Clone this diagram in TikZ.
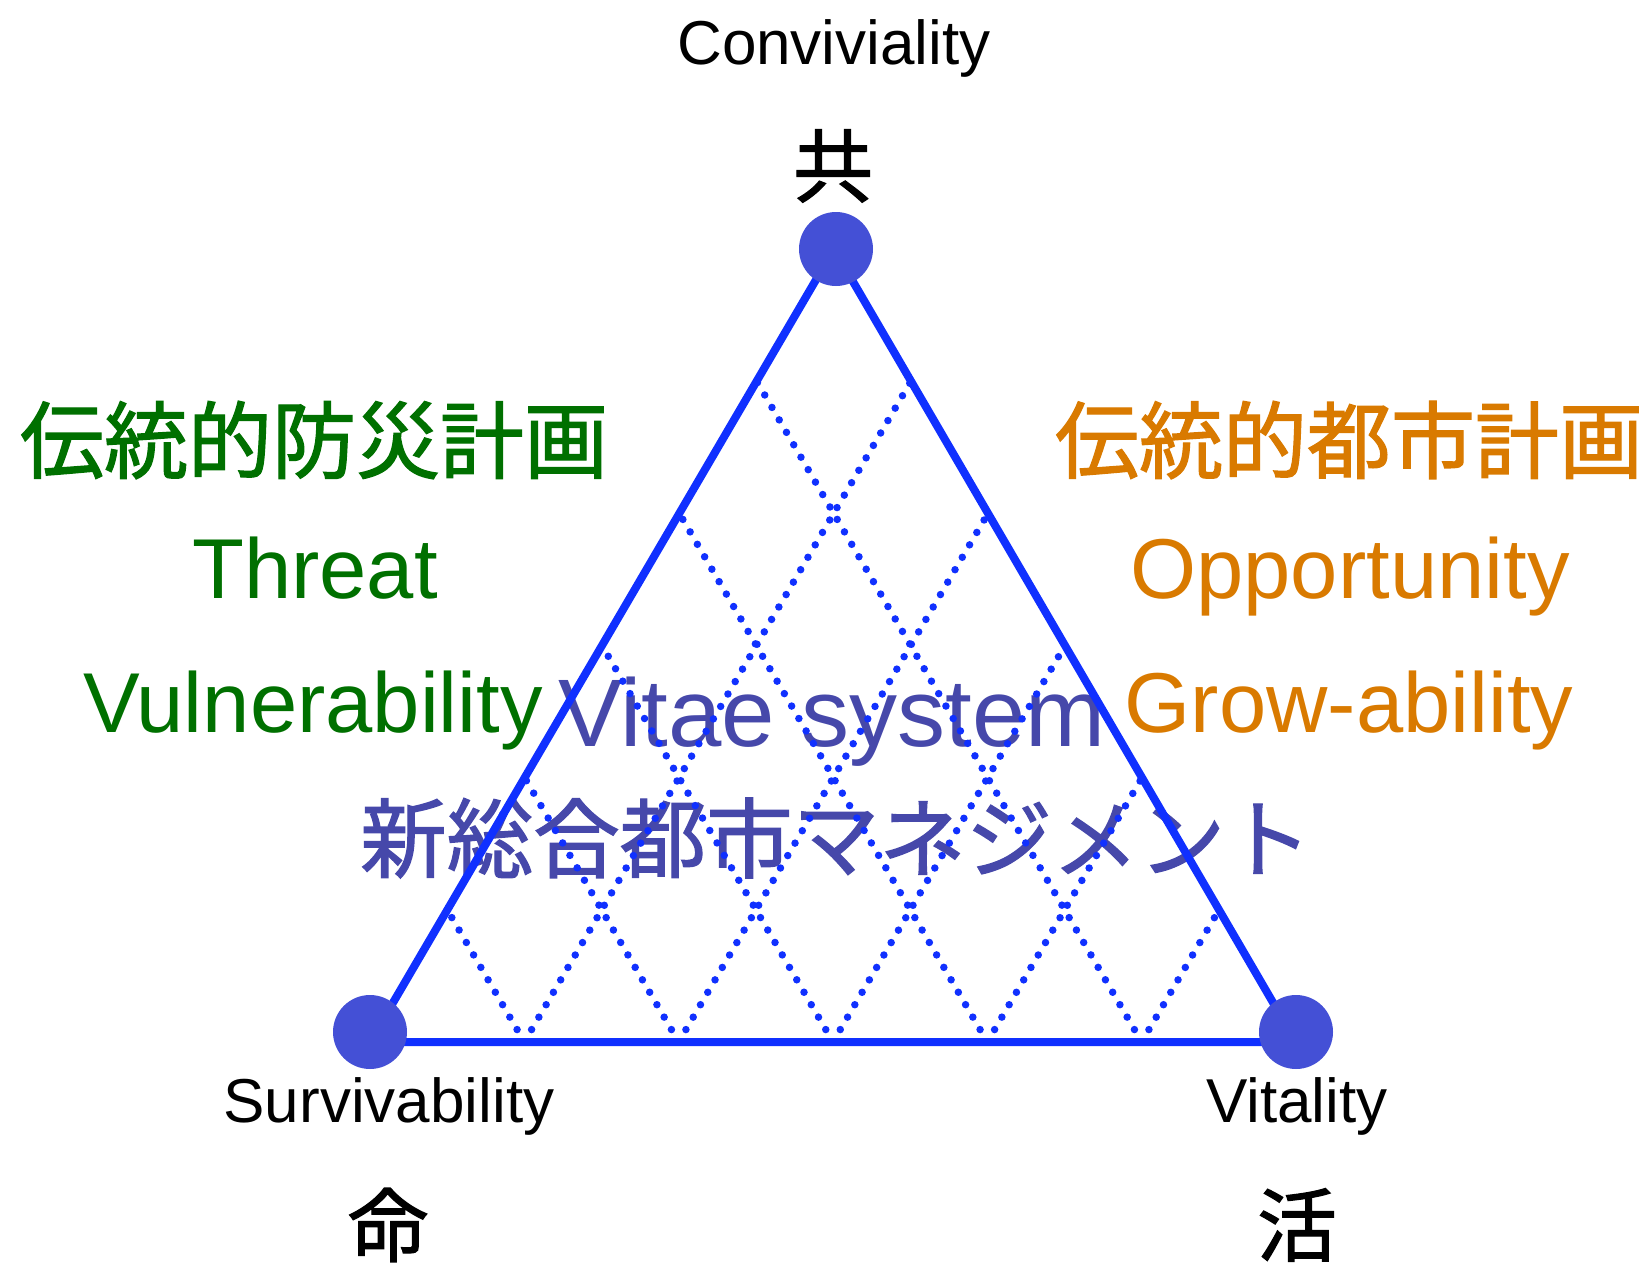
\documentclass[tikz,border=0pt]{standalone}
\usepackage{fontspec}
\setmainfont{Liberation Sans}
\newfontfamily\cjk[FakeBold=1.5]{Noto Sans CJK JP}
\usetikzlibrary{calc}
\definecolor{edgeblue}{RGB}{16,48,255}
\definecolor{dotfill}{RGB}{68,80,214}
\definecolor{vitaecol}{RGB}{70,72,170}
\definecolor{grn}{RGB}{0,112,0}
\definecolor{org}{RGB}{217,122,0}
\tikzset{
  lat/.style={inner sep=0pt, anchor=base},
  cj/.style={inner sep=0pt, anchor=center},
  edgeline/.style={draw=edgeblue, line width=8pt},
  gridline/.style={draw=edgeblue, line width=7.5pt, line cap=round, dash pattern=on 0pt off 14.4pt},
  vtx/.style={circle, fill=dotfill, minimum size=74pt, inner sep=0pt},
}
\begin{document}
\begin{tikzpicture}[x=1pt,y=-1pt]
\useasboundingbox (0,0) rectangle (1652,1271);
% texts
\node[lat, font=\fontsize{62}{70}\selectfont] (conv) at (834,65) {Conviviality};
\node[cj, font=\cjk\fontsize{80}{90}\selectfont] (kyo) at (833,166) {共};
\node[cj, text=grn, font=\cjk\fontsize{84}{94}\selectfont] (bosai) at (314,440) {伝統的防災計画};
\node[lat, text=grn, font=\fontsize{85}{95}\selectfont] (threat) at (315,598) {Threat};
\node[lat, text=grn, font=\fontsize{85}{95}\selectfont] (vuln) at (313,732) {Vulnerability};
\node[cj, text=org, font=\cjk\fontsize{84}{94}\selectfont] (toshi) at (1349,440) {伝統的都市計画};
\node[lat, text=org, font=\fontsize{85}{95}\selectfont] (opp) at (1350,598) {Opportunity};
\node[lat, text=org, font=\fontsize{85}{95}\selectfont] (grow) at (1349,732) {Grow-ability};
\node[lat, text=vitaecol, font=\fontsize{96}{106}\selectfont] (vitae) at (832,746) {Vitae system};
\node[cj, text=vitaecol, font=\cjk\fontsize{86.5}{96}\selectfont] (shin) at (836,838) {新総合都市マネジメント};
\node[lat, font=\fontsize{62}{70}\selectfont] (surv) at (389,1122) {Survivability};
\node[lat, font=\fontsize{62}{70}\selectfont] (vital) at (1297,1122) {Vitality};
\node[cj, font=\cjk\fontsize{80}{90}\selectfont] (mei) at (388,1225) {命};
\node[cj, font=\cjk\fontsize{80}{90}\selectfont] (katsu) at (1297,1225) {活};
% triangle
\coordinate (L) at (370,1042);
\coordinate (R) at (1296,1042);
\coordinate (T) at (834,249);
\foreach \i in {1,...,5}{
  \coordinate (P\i) at ($(L)!\i/6!(R)$);
  \coordinate (Q\i) at ($(L)!\i/6!(T)$);
  \coordinate (S\i) at ($(T)!\i/6!(R)$);
  \draw[gridline] (P\i) -- (Q\i);
  \draw[gridline] (P\i) -- (S\i);
}
\draw[edgeline] (L) -- (R) -- (T) -- cycle;
\node[vtx] (vT) at (836,249) {};
\node[vtx] (vL) at (370,1032) {};
\node[vtx] (vR) at (1296,1032) {};
\end{tikzpicture}
\end{document}
